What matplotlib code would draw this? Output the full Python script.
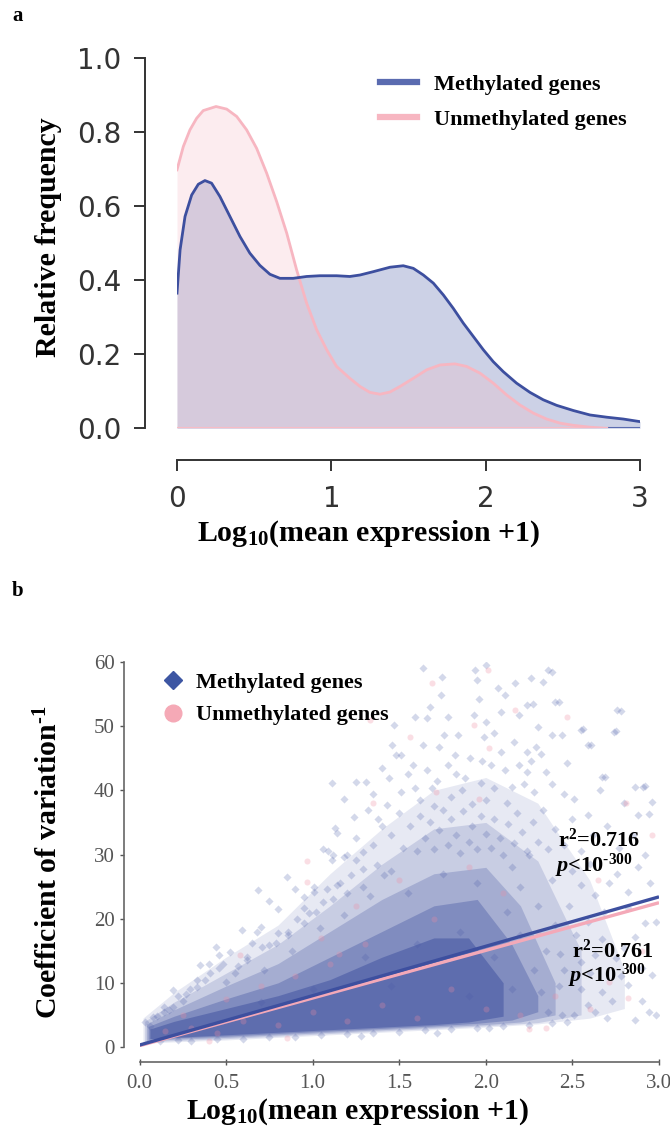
import matplotlib
matplotlib.use("Agg")
import matplotlib.pyplot as plt
import numpy as np
from matplotlib.lines import Line2D

# ---------------- panel a: density curves ----------------
meth_x = [0.0, 0.02, 0.052, 0.095, 0.138, 0.181, 0.224, 0.278, 0.343, 0.408, 0.472, 0.537, 0.602,
          0.667, 0.753, 0.84, 0.926, 1.034, 1.12, 1.186, 1.272, 1.38, 1.466, 1.531, 1.596, 1.661,
          1.726, 1.79, 1.855, 1.92, 1.985, 2.049, 2.114, 2.2, 2.287, 2.373, 2.46, 2.568, 2.676,
          2.784, 2.892, 3.0]
meth_y = [0.365, 0.482, 0.572, 0.63, 0.659, 0.669, 0.662, 0.626, 0.572, 0.518, 0.473, 0.44, 0.416,
          0.405, 0.405, 0.41, 0.412, 0.412, 0.41, 0.414, 0.423, 0.435, 0.439, 0.432, 0.414, 0.392,
          0.36, 0.324, 0.284, 0.248, 0.212, 0.18, 0.153, 0.122, 0.097, 0.077, 0.062, 0.048, 0.036,
          0.030, 0.025, 0.018]
unmeth_x = [0.0, 0.041, 0.084, 0.127, 0.17, 0.253, 0.322, 0.387, 0.451, 0.516, 0.581, 0.646, 0.711,
            0.775, 0.84, 0.905, 0.97, 1.034, 1.12, 1.186, 1.25, 1.315, 1.38, 1.445, 1.531, 1.618,
            1.704, 1.801, 1.877, 1.963, 2.049, 2.136, 2.222, 2.309, 2.395, 2.482, 2.568, 2.676,
            2.784]
unmeth_y = [0.698, 0.761, 0.806, 0.837, 0.858, 0.869, 0.862, 0.842, 0.806, 0.756, 0.689, 0.612,
            0.527, 0.428, 0.338, 0.266, 0.212, 0.167, 0.135, 0.113, 0.097, 0.092, 0.098, 0.113,
            0.135, 0.158, 0.171, 0.174, 0.167, 0.149, 0.122, 0.09, 0.063, 0.041, 0.025, 0.014,
            0.008, 0.003, 0.0]
meth_tail_x = [2.8, 3.0]
unmeth_base_x = [0.0, 2.8]

# ---------------- panel b: scatter ----------------
# nested envelopes of the dense cloud (x, lower, upper), faint -> dark
cloud_x = [
    [0.02, 0.2, 0.5, 0.8, 1.1, 1.4, 1.7, 2.0, 2.3, 2.6, 2.8],
    [0.03, 0.2, 0.5, 0.8, 1.1, 1.4, 1.7, 2.0, 2.3, 2.55],
    [0.04, 0.2, 0.5, 0.8, 1.1, 1.4, 1.7, 2.0, 2.2, 2.4],
    [0.05, 0.2, 0.5, 0.8, 1.1, 1.4, 1.7, 1.95, 2.15, 2.3],
    [0.06, 0.2, 0.5, 0.8, 1.1, 1.4, 1.7, 1.9, 2.1],
]
cloud_lo = [
    [0.6, 0.8, 1.1, 1.5, 1.9, 2.3, 2.7, 3.1, 3.6, 4.5, 6.0],
    [0.8, 1.0, 1.3, 1.7, 2.1, 2.5, 2.9, 3.3, 3.8, 5.0],
    [1.0, 1.2, 1.5, 1.9, 2.3, 2.7, 3.1, 3.5, 3.9, 5.0],
    [1.2, 1.4, 1.7, 2.1, 2.5, 2.9, 3.3, 3.7, 4.2, 5.5],
    [1.3, 1.5, 1.9, 2.3, 2.7, 3.1, 3.5, 3.9, 4.8],
]
cloud_hi = [
    [4.5, 8.5, 14, 19, 27, 34, 40, 42, 38, 26, 12],
    [4.0, 7.0, 11.5, 16, 22, 28.5, 34, 35, 29, 15],
    [3.6, 5.8, 9.5, 13, 18, 23, 27, 28, 22, 10],
    [3.2, 4.8, 7.5, 10, 14, 18, 22, 23, 16, 8],
    [2.8, 4.0, 6.0, 8.0, 10.5, 14, 17, 17, 10],
]
cloud_alpha = [0.12, 0.18, 0.25, 0.35, 0.5]

meth_pts = [
    (1.64, 59.0), (1.745, 57.7), (1.94, 58.7), (2.00, 59.6), (2.26, 57.5), (2.36, 58.7), (2.17, 56.7),
    (1.95, 57.2), (2.07, 55.9), (1.74, 54.9), (1.96, 54.3), (2.11, 54.8), (1.68, 53.0), (2.40, 53.8),
    (2.24, 53.3), (2.76, 52.5), (1.59, 51.4), (1.66, 51.2), (1.78, 51.4), (1.93, 51.7), (2.00, 50.7),
    (2.09, 52.2), (2.19, 51.7), (2.30, 49.9), (2.55, 49.4), (2.74, 49.1), (1.76, 48.6), (1.84, 48.6),
    (1.99, 48.3), (2.05, 48.9), (2.16, 47.6), (2.24, 46.0), (2.38, 48.6), (2.44, 48.6), (2.59, 47.0),
    (1.51, 45.5), (1.64, 47.0), (1.73, 46.8), (1.82, 45.5), (1.91, 45.0), (2.09, 46.0), (2.47, 44.2),
    (2.29, 46.8), (2.32, 45.7), (1.47, 50.2), (1.48, 45.5), (1.46, 47.0), (2.42, 53.7), (2.38, 58.5),
    (2.33, 56.9), (2.27, 53.4), (2.78, 52.4), (2.75, 49.3), (2.61, 47.0), (2.56, 49.5),
    (1.55, 42.6), (1.66, 43.1), (1.78, 43.9), (2.03, 43.9), (2.11, 43.1), (2.19, 43.9), (2.24, 42.9),
    (2.35, 42.9), (2.67, 42.1), (2.86, 40.5), (2.91, 40.5), (2.96, 38.2), (1.51, 39.8), (1.59, 40.3),
    (1.69, 40.3), (1.86, 40.0), (2.05, 40.3), (2.15, 40.5), (2.28, 39.8), (2.51, 38.7), (2.66, 40.0),
    (2.80, 38.0), (1.11, 41.1), (1.18, 38.7), (1.25, 41.3), (1.31, 41.3), (1.44, 41.9), (1.43, 37.7),
    (2.69, 42.1), (2.92, 40.7), (1.62, 38.5), (1.72, 41.5), (1.80, 39.0), (1.88, 42.0), (1.97, 41.2),
    (2.00, 38.5), (2.12, 38.0), (2.22, 41.0), (1.92, 37.8), (1.70, 37.5), (2.38, 41.0), (2.45, 39.5),
    (1.58, 44.0), (1.98, 44.5), (2.26, 44.5), (1.83, 42.5), (1.35, 39.5), (1.40, 43.5),
    (1.24, 35.9), (1.38, 35.6), (1.13, 34.1), (1.06, 30.9), (1.12, 29.9), (1.20, 29.9), (1.29, 30.4),
    (1.09, 30.5), (1.14, 33.3), (2.88, 36.1), (2.59, 36.1), (2.94, 36.3),
    (1.45, 33.0), (1.50, 36.5), (1.52, 31.0), (1.56, 34.5), (1.60, 30.5), (1.62, 36.0), (1.65, 32.5),
    (1.68, 35.0), (1.70, 30.8), (1.73, 33.8), (1.75, 37.0), (1.78, 31.5), (1.80, 35.5), (1.83, 33.0),
    (1.85, 30.2), (1.87, 36.8), (1.90, 32.0), (1.92, 34.5), (1.95, 30.8), (1.97, 36.0), (2.00, 33.2),
    (2.03, 31.0), (2.05, 35.5), (2.08, 32.5), (2.10, 30.0), (2.13, 34.8), (2.16, 31.8), (2.18, 36.5),
    (2.21, 33.5), (2.24, 30.5), (2.27, 35.0), (2.30, 32.0), (2.33, 37.0), (2.36, 30.8), (2.40, 34.0),
    (2.45, 31.5), (2.50, 35.5), (2.55, 30.5), (2.62, 33.0), (2.70, 34.5), (2.77, 31.0), (2.85, 33.0),
    (2.92, 30.0), (1.35, 31.5), (1.40, 34.5), (1.25, 32.5), (1.32, 37.0),
    (0.686, 24.5), (0.90, 24.7), (1.11, 29.1), (1.18, 29.6), (1.25, 29.1), (1.08, 24.7), (0.95, 23.4),
    (1.01, 24.2), (0.91, 20.0), (0.95, 21.6), (1.02, 21.1), (1.06, 22.6), (1.14, 25.2), (1.22, 26.8),
    (1.29, 27.8), (1.37, 28.3), (1.41, 26.8), (0.80, 21.5), (0.75, 22.8), (0.85, 26.5),
    (2.55, 25.2), (2.63, 23.7), (2.71, 25.5), (2.82, 24.2), (2.92, 19.3), (2.98, 19.5), (2.86, 17.2),
    (2.80, 15.4), (2.90, 12.3), (2.96, 11.2), (2.82, 9.7), (2.94, 5.5), (2.90, 7.1), (2.73, 7.1),
    (2.63, 5.5), (2.67, 8.6), (2.55, 9.1), (2.59, 6.5), (2.51, 5.0), (2.63, 14.3), (2.55, 13.3),
    (2.75, 13.8), (2.67, 16.9), (2.59, 19.5), (2.82, 21.6), (2.44, 5.0), (2.47, 3.9), (2.50, 27.5),
    (2.60, 28.5), (2.68, 21.0), (2.76, 27.0), (2.88, 28.0), (2.95, 25.5), (2.48, 22.0), (2.52, 17.5),
    (2.45, 12.0), (2.78, 11.0), (2.70, 4.5), (2.86, 4.2), (2.98, 5.0), (2.60, 11.5),
    (0.59, 18.2), (0.68, 18.0), (0.70, 18.7), (0.44, 15.6), (0.35, 12.8), (0.40, 13.0), (0.46, 12.3),
    (0.29, 9.1), (0.33, 9.4), (0.25, 7.1), (0.195, 6.3), (0.14, 5.5), (0.03, 3.9), (0.86, 17.4),
    (0.80, 17.7), (0.75, 15.9), (0.65, 16.2), (0.52, 14.8), (0.46, 14.3), (0.55, 11.5), (0.62, 13.5),
    (0.38, 10.5), (0.22, 8.0), (0.10, 4.8),
    # upper-left edge of the cloud
    (0.86, 18.0), (0.95, 19.3), (0.98, 20.9), (1.12, 23.0), (1.20, 24.0), (1.29, 25.0), (1.16, 25.5),
    (1.01, 25.0), (0.79, 16.2), (0.71, 15.6), (0.62, 14.0), (0.48, 13.0), (0.41, 11.5), (0.33, 10.4),
    (0.195, 8.9), (0.14, 6.3), (0.08, 4.7), (0.06, 3.2), (0.27, 8.2), (0.57, 12.6), (0.88, 15.0),
    (1.04, 18.5), (1.18, 20.5), (1.33, 23.5), (1.45, 27.5), (0.72, 12.0), (0.50, 10.2), (0.17, 5.8),
    # lower edge of the cloud
    (0.12, 0.9), (0.30, 1.0), (0.45, 1.2), (0.60, 1.3), (0.75, 1.5), (0.90, 1.6), (1.05, 1.8),
    (1.20, 2.0), (1.35, 2.2), (1.50, 2.4), (1.65, 2.6), (1.80, 2.8), (1.95, 3.0), (2.10, 3.2),
    (2.25, 3.4), (2.38, 3.8), (0.22, 1.1), (1.28, 1.7), (1.72, 2.2), (2.02, 2.9),
    # inside / right side of the cloud
    (2.20, 25.0), (2.30, 22.0), (2.35, 15.0), (2.40, 19.0), (2.28, 12.0), (2.15, 28.0), (2.25, 30.0),
    (2.32, 8.5), (2.38, 26.0), (2.42, 9.5), (2.20, 17.5), (2.12, 21.0), (2.43, 14.5), (2.36, 5.5),
    (1.55, 24.0), (1.75, 27.0), (1.95, 25.5), (1.60, 16.0), (1.85, 18.0), (2.05, 14.0), (1.30, 14.0),
    (1.00, 9.0), (0.70, 7.0), (1.45, 9.5), (1.90, 8.0), (2.15, 9.0),
]
unmeth_pts = [
    (1.33, 50.9), (1.35, 38.0), (0.97, 29.0), (0.965, 25.7), (0.58, 14.3), (2.82, 7.6), (2.71, 10.2),
    (1.69, 56.7), (2.01, 58.7), (2.47, 51.4), (1.56, 48.3), (1.93, 50.2), (2.17, 52.5), (2.02, 46.6),
    (2.96, 33.0), (2.81, 38.0), (1.71, 39.8), (1.96, 38.7),
    (0.15, 2.5), (0.30, 3.0), (0.45, 2.2), (0.60, 4.0), (0.80, 3.5), (1.00, 5.5), (1.20, 4.0),
    (1.40, 6.5), (1.60, 4.5), (1.80, 9.0), (2.00, 6.0), (2.20, 5.0), (2.40, 8.0), (0.50, 7.5),
    (0.90, 11.0), (1.30, 16.0), (1.70, 20.0), (2.10, 24.0), (1.50, 26.0), (1.90, 28.0), (2.30, 18.0),
    (2.60, 6.0), (1.10, 13.0), (0.70, 9.5), (2.35, 3.0), (2.65, 26.0), (2.90, 15.0), (1.25, 22.0),
    (0.40, 1.0), (0.85, 1.4), (1.15, 14.5), (1.55, 12.0), (2.25, 2.8), (0.25, 5.0), (1.05, 17.0),
]

# fitted lines: intercept, slope
meth_fit = (0.3, 7.7)
unmeth_fit = (0.2, 7.43)

BLUE = "#3d4f9f"
PINK = "#f4a9b8"
fig_w, fig_h = 670, 1134


def fx(px):
    return px / fig_w


def fy(py):
    return 1 - py / fig_h


plt.rcParams["mathtext.fontset"] = "custom"
plt.rcParams["mathtext.rm"] = "Liberation Serif:bold"
plt.rcParams["mathtext.bf"] = "Liberation Serif:bold"
plt.rcParams["mathtext.it"] = "Liberation Serif:italic:bold"

fig = plt.figure(figsize=(6.7, 11.34), dpi=100)
serif_bold = dict(family="Liberation Serif", fontweight="bold")

# ---------------- panel a ----------------
ax1 = fig.add_axes([fx(177), fy(428.3), fx(640) - fx(177), fy(58) - fy(428.3)])
ax1.fill_between(meth_x, meth_y, color="#4a5ca8", alpha=0.28, lw=0)
ax1.fill_between(unmeth_x, unmeth_y, color="#f7b6c1", alpha=0.25, lw=0)
ax1.plot(unmeth_base_x, [0, 0], color="#f7bcc5", lw=1.5)
ax1.plot(meth_tail_x, [0, 0], color="#5a6bb0", lw=1.5)
ax1.plot(unmeth_x, unmeth_y, color="#f7b6c1", lw=2)
ax1.plot(meth_x, meth_y, color=BLUE, lw=2)
ax1.set_xlim(0, 3)
ax1.set_ylim(0, 1)
ax1.set_xticks([0, 1, 2, 3])
ax1.set_yticks([0, 0.2, 0.4, 0.6, 0.8, 1.0])
ax1.set_yticklabels(["0.0", "0.2", "0.4", "0.6", "0.8", "1.0"])
for s in ["top", "right"]:
    ax1.spines[s].set_visible(False)
for s in ["left", "bottom"]:
    ax1.spines[s].set_position(("outward", 23))
    ax1.spines[s].set_color("#333333")
    ax1.spines[s].set_linewidth(1.4)
ax1.tick_params(axis="both", labelsize=20, colors="#333333", length=8, width=1.4)
ax1.tick_params(axis="y", pad=9)
ax1.tick_params(axis="x", pad=10)
ax1.legend(
    handles=[Line2D([], [], color="#5a6bb0", lw=4.5), Line2D([], [], color="#f7b6c1", lw=4.5)],
    labels=["Methylated genes", "Unmethylated genes"],
    loc="upper left", bbox_to_anchor=(fx(360), fy(54)), bbox_transform=fig.transFigure,
    frameon=False, handlelength=1.65, handletextpad=0.8, labelspacing=0.68,
    prop=dict(family="Liberation Serif", weight="bold", size=16),
)
fig.text(fx(369), fy(534), "Log$_{10}$(mean expression +1)", ha="center", va="center",
         fontsize=21.5, **serif_bold)
fig.text(fx(49), fy(237), "Relative frequency", ha="center", va="center", rotation=90,
         fontsize=21.5, **serif_bold)
fig.text(fx(12), fy(16), "a", ha="left", va="center", fontsize=15, **serif_bold)

# ---------------- panel b ----------------
ax2 = fig.add_axes([fx(139.5), fy(1047), fx(659) - fx(139.5), fy(662) - fy(1047)])
for cx, lo, hi, a in zip(cloud_x, cloud_lo, cloud_hi, cloud_alpha):
    ax2.fill_between(cx, lo, hi, color=BLUE, alpha=a, lw=0)
mx, my = zip(*meth_pts)
ux, uy = zip(*unmeth_pts)
ax2.scatter(mx, my, marker="D", s=17, color="#4a5ca8", alpha=0.24, lw=0)
ax2.scatter(ux, uy, marker="o", s=19, color="#f08aa0", alpha=0.28, lw=0)
xx = np.array([0.0, 3.0])
ax2.plot(xx, unmeth_fit[0] + unmeth_fit[1] * xx, color=PINK, lw=2.4, solid_capstyle="butt")
ax2.plot(xx, meth_fit[0] + meth_fit[1] * xx, color=BLUE, lw=2.4, solid_capstyle="butt")
ax2.set_xlim(0, 3)
ax2.set_ylim(0, 60)
ax2.set_xticks([0, 0.5, 1.0, 1.5, 2.0, 2.5, 3.0])
ax2.set_xticklabels(["0.0", "0.5", "1.0", "1.5", "2.0", "2.5", "3.0"])
ax2.set_yticks([0, 10, 20, 30, 40, 50, 60])
for s in ["top", "right"]:
    ax2.spines[s].set_visible(False)
for s in ["left", "bottom"]:
    ax2.spines[s].set_position(("outward", 11))
    ax2.spines[s].set_color("#666666")
    ax2.spines[s].set_linewidth(1.2)
for lab in ax2.get_xticklabels() + ax2.get_yticklabels():
    lab.set_family("Liberation Serif")
ax2.tick_params(axis="both", labelsize=15, colors="#555555", length=3, width=1.0)
ax2.tick_params(axis="x", direction="inout", length=5, pad=6)
ax2.tick_params(axis="y", pad=4)
ax2.legend(
    handles=[Line2D([], [], marker="D", ls="", color="#3d56a3", ms=9),
             Line2D([], [], marker="o", ls="", color="#f5a9b6", ms=12)],
    labels=["Methylated genes", "Unmethylated genes"],
    loc="upper left", bbox_to_anchor=(fx(142), fy(652)), bbox_transform=fig.transFigure,
    frameon=False, handlelength=1.0, handletextpad=0.55, labelspacing=0.55,
    prop=dict(family="Liberation Serif", weight="bold", size=16),
)
fig.text(fx(558), fy(840), "r$^{2}$=0.716", ha="left", va="center", fontsize=16, **serif_bold)
fig.text(fx(555), fy(866), "$p$<10$^{\u2010300}$", ha="left", va="center", fontsize=16, **serif_bold)
fig.text(fx(572), fy(951), "r$^{2}$=0.761", ha="left", va="center", fontsize=16, **serif_bold)
fig.text(fx(568), fy(976), "$p$<10$^{\u2010300}$", ha="left", va="center", fontsize=16, **serif_bold)
fig.text(fx(358), fy(1112), "Log$_{10}$(mean expression +1)", ha="center", va="center",
         fontsize=21.5, **serif_bold)
fig.text(fx(49), fy(862), "Coefficient of variation$^{\u20101}$", ha="center", va="center",
         rotation=90, fontsize=21.5, **serif_bold)
fig.text(fx(12), fy(591), "b", ha="left", va="center", fontsize=15, **serif_bold)

fig.savefig("out.png", dpi=100)
